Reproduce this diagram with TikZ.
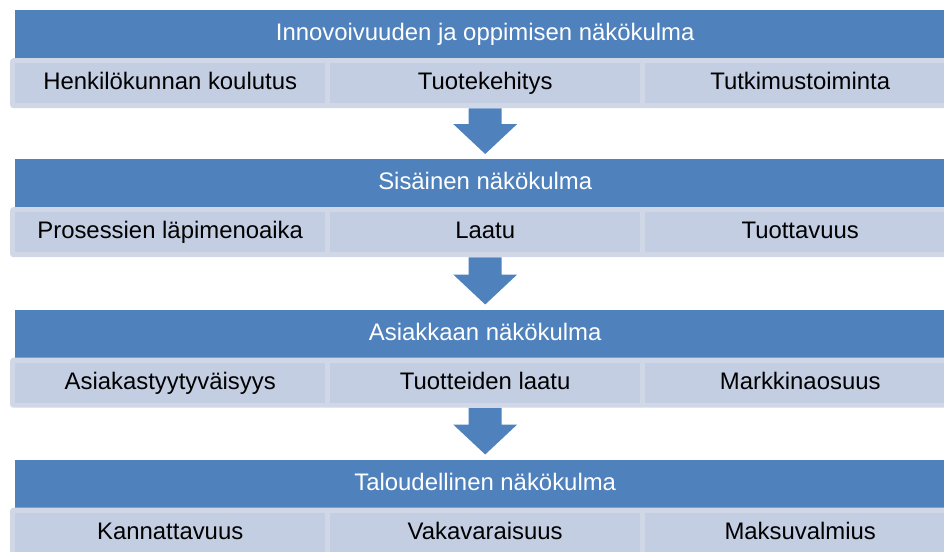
\documentclass[tikz,border=0pt]{standalone}
\usepackage{fontspec}
\setmainfont{Liberation Sans}
\usetikzlibrary{calc}

\definecolor{headblue}{HTML}{4F81BD}
\definecolor{cellblue}{HTML}{C3CEE3}
\definecolor{frameblue}{HTML}{D0D8E8}

\tikzset{
  txt/.style={font=\fontsize{23.9}{28}\selectfont, text height=17pt, text depth=4pt},
  header/.style={txt, fill=headblue, text=white, minimum width=940pt,
    minimum height=48pt, anchor=north west, inner sep=0pt},
  rowframe/.style={fill=frameblue, rounded corners=3pt, minimum width=950pt,
    minimum height=50pt, anchor=north west, inner sep=0pt},
  cell/.style={txt, fill=cellblue, text=black, minimum width=310pt,
    minimum height=40pt, anchor=west, inner sep=0pt},
  flowarrow/.style={fill=headblue}
}

\begin{document}
\begin{tikzpicture}[x=1pt,y=-1pt]
  \useasboundingbox (0,0) rectangle (944,551);
  \clip (0,0) rectangle (944,551);

  % one block per perspective: title bar, framed row of three measures
  \foreach \i/\top/\title/\ca/\cb/\cc in {
    1/10/Innovoivuuden ja oppimisen näkökulma/Henkilökunnan koulutus/Tuotekehitys/Tutkimustoiminta,
    2/159/Sisäinen näkökulma/Prosessien läpimenoaika/Laatu/Tuottavuus,
    3/309.5/Asiakkaan näkökulma/Asiakastyytyväisyys/Tuotteiden laatu/Markkinaosuus,
    4/459.5/Taloudellinen näkökulma/Kannattavuus/Vakavaraisuus/Maksuvalmius} {
    \node[header] (h\i) at (15,\top) {\title};
    \node[rowframe] (f\i) at (10,\top+48) {};
    \node[cell] (a\i) at ($(f\i.west)+(5,0)$) {\ca};
    \node[cell] (b\i) at ($(f\i.west)+(320,0)$) {\cb};
    \node[cell] (c\i) at ($(f\i.west)+(635,0)$) {\cc};
  }

  % block arrows leading from each row down to the next title bar
  \foreach \i/\j in {1/2,2/3,3/4} {
    \fill[flowarrow] let \p1=(f\i.south), \p2=(h\j.north) in
      (\x1-16.5pt,\y1) -- (\x1+16.5pt,\y1) -- (\x1+16.5pt,\y2+35pt)
      -- (\x1+32pt,\y2+35pt) -- (\x1,\y2+5pt) -- (\x1-32pt,\y2+35pt)
      -- (\x1-16.5pt,\y2+35pt) -- cycle;
  }
\end{tikzpicture}
\end{document}
